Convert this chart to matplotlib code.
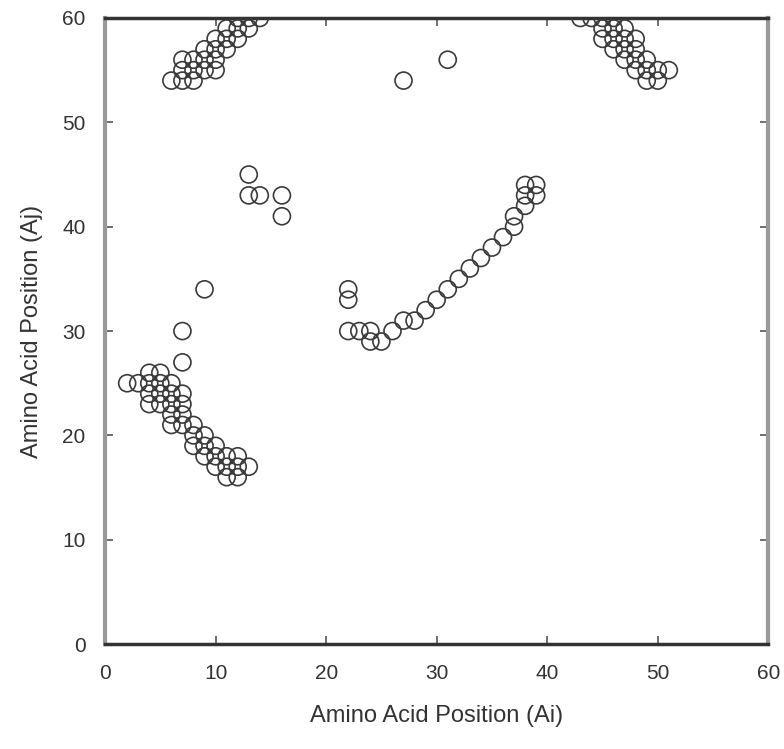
import matplotlib
matplotlib.use("Agg")
import matplotlib.pyplot as plt

plt.rcParams['font.family'] = ['Liberation Sans Narrow', 'Liberation Sans', 'DejaVu Sans']

# contact clusters (residue i, residue j)
tl_x = [6, 7, 8, 7, 8, 9, 10, 7, 8, 9, 10, 9, 10, 11, 10, 11, 12, 11, 12, 13, 12, 13, 14]
tl_y = [54, 54, 54, 55, 55, 55, 55, 56, 56, 56, 56, 57, 57, 57, 58, 58, 58, 59, 59, 59, 60, 60, 60]

tr_x = [43, 44, 45, 46, 45, 46, 47, 45, 46, 47, 48, 46, 47, 48, 47, 48, 49, 48, 49, 50, 51, 49, 50]
tr_y = [60, 60, 60, 60, 59, 59, 59, 58, 58, 58, 58, 57, 57, 57, 56, 56, 56, 55, 55, 55, 55, 54, 54]

ml_x = [4, 5, 2, 3, 4, 5, 6, 4, 5, 6, 7, 4, 5, 6, 7, 6, 7, 6, 7, 8, 8, 9, 8, 9, 10,
        9, 10, 11, 12, 10, 11, 12, 13, 11, 12]
ml_y = [26, 26, 25, 25, 25, 25, 25, 24, 24, 24, 24, 23, 23, 23, 23, 22, 22, 21, 21, 21,
        20, 20, 19, 19, 19, 18, 18, 18, 18, 17, 17, 17, 17, 16, 16]

diag_x = [22, 22, 22, 23, 24, 24, 25, 26, 27, 28, 29, 30, 31, 32, 33, 34, 35, 36,
          37, 37, 38, 38, 38, 39, 39]
diag_y = [34, 33, 30, 30, 30, 29, 29, 30, 31, 31, 32, 33, 34, 35, 36, 37, 38, 39,
          40, 41, 42, 43, 44, 43, 44]

lone_x = [7, 7, 9, 13, 13, 14, 16, 16, 27, 31]
lone_y = [30, 27, 34, 45, 43, 43, 43, 41, 54, 56]

xs = tl_x + tr_x + ml_x + diag_x + lone_x
ys = tl_y + tr_y + ml_y + diag_y + lone_y

fig = plt.figure(figsize=(7.84, 7.49), dpi=100)
ax = fig.add_axes([0.134, 0.14, 0.846, 0.836])

ax.scatter(xs, ys, s=150, facecolors='none', edgecolors='#3a3a3a', linewidths=1.2,
           zorder=3)

ax.set_xlim(0, 60)
ax.set_ylim(0, 60)
ax.set_xticks(range(0, 61, 10))
ax.set_yticks(range(0, 61, 10))
ax.tick_params(direction='in', length=6, width=1.2, colors='#555555',
               labelsize=15, labelcolor='#333333', top=True, right=True, pad=14)

for s in ['top', 'bottom']:
    ax.spines[s].set_color('#333333')
    ax.spines[s].set_linewidth(2.5)
for s in ['left', 'right']:
    ax.spines[s].set_color('#999999')
    ax.spines[s].set_linewidth(3)

ax.set_xlabel('Amino Acid Position (Ai)', fontsize=17, color='#333333', labelpad=16)
ax.set_ylabel('Amino Acid Position (Aj)', fontsize=17, color='#333333', labelpad=14)

fig.savefig('out.png', dpi=100)
